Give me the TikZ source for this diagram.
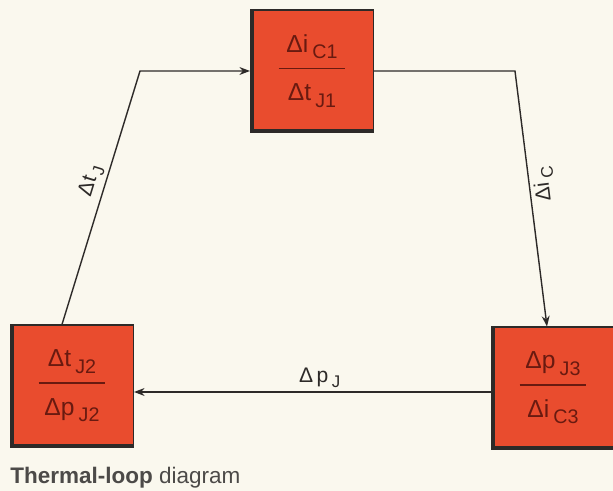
\documentclass[tikz,border=0pt]{standalone}
\usepackage{fontspec}
\usepackage{graphicx}
\setmainfont{Liberation Sans}
\usetikzlibrary{arrows.meta,positioning,calc}
\definecolor{paper}{RGB}{250,248,238}
\definecolor{boxred}{RGB}{233,76,46}
\definecolor{boxtxt}{RGB}{105,26,16}
\definecolor{ink}{RGB}{45,42,40}
\newcommand{\lowr}[1]{\,\raisebox{-0.5ex}{\scalebox{0.8}{#1}}}
\newcommand{\ratio}[2]{#1\\[-6.5pt]\rule{38pt}{0.8pt}\\[2pt]#2}

\begin{document}
\begin{tikzpicture}[>={Stealth[length=6pt,width=4.5pt]},
   blk/.style={draw=ink,line width=0.6pt,fill=boxred,minimum width=2.46cm,minimum height=2.44cm,
     align=center,text=boxtxt,font=\fontsize{14}{16}\selectfont},
   lbl/.style={text=ink,font=\fontsize{12}{14}\selectfont,inner sep=2pt},
   wire/.style={draw=ink,line width=0.8pt}]
  \fill[paper] (0,0) rectangle (12.26,9.82);
  \useasboundingbox (0,0) rectangle (12.26,9.82);
  % the three blocks
  \node[blk] (c1) at (6.24,8.40) {\ratio{Δi\lowr{C1}}{Δt\lowr{J1}}};
  \node[blk] (j2) at (1.44,2.10) {\ratio{Δt\lowr{J2}}{Δp\lowr{J2}}};
  \node[blk] (j3) at (11.06,2.06) {\ratio{Δp\lowr{J3}}{Δi\lowr{C3}}};
  % dark left and bottom edges
  \foreach \n in {c1,j2,j3}
    \draw[ink,line width=2.2pt] ([shift={(0.04,0)}]\n.north west) -- ([shift={(0.04,0.04)}]\n.south west) -- ([shift={(0,0.04)}]\n.south east);
  % loop
  \coordinate (lc) at (2.80,8.40);
  \coordinate (rc) at (10.30,8.40);
  \draw[wire,->] ([xshift=-0.2cm]j2.north) -- node[lbl,sloped,above,pos=0.55] {Δt\lowr{J}} (lc) -- (c1.west);
  \draw[wire,<-] ([xshift=-0.12cm]j3.north) -- node[lbl,sloped,allow upside down,below,pos=0.55] {Δi\lowr{C}} (rc) -- (c1.east);
  \draw[wire,->] ([yshift=-0.08cm]j3.west) -- node[lbl,above,pos=0.48] {Δ\,p\lowr{J}} ([yshift=-0.08cm]j3.west -| j2.east);
  % caption
  \node[anchor=west,text=ink!85,font=\fontsize{12.8}{14}\selectfont,inner sep=0pt] (cap) at (0.2,0.26) {\textbf{Thermal-loop} diagram};
\end{tikzpicture}
\end{document}
